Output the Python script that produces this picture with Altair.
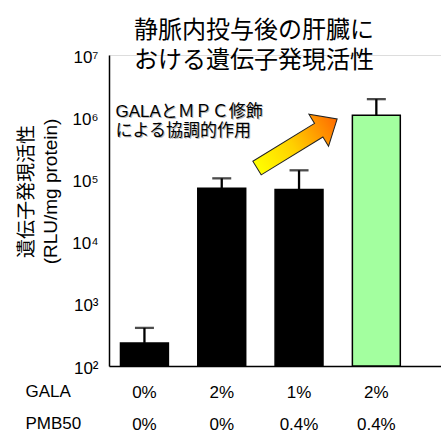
import altair as alt
import pandas as pd

# ---- data ----
gala = ["0%", "2%", "1%", "2%"]
pmb50 = ["0%", "0%", "0.4%", "0.4%"]
mean_rlu = [235, 72000, 69000, 1070000]
upper_rlu = [410, 104000, 140000, 1950000]
highlight = [False, False, False, True]

title_lines = ["静脈内投与後の肝臓に", "おける遺伝子発現活性"]
ytitle_lines = ["遺伝子発現活性", "(RLU/mg protein)"]
row_labels = ["GALA", "PMB50"]
note_lines = ["GALAとＭＰＣ修飾", "による協調的作用"]
y_ticks = [100, 1000, 10000, 100000, 1000000, 10000000]

cats = [f"{g}|{p}" for g, p in zip(gala, pmb50)]
df = pd.DataFrame({"cat": cats, "mean": mean_rlu, "upper": upper_rlu, "hl": highlight})

FONT = "Liberation Sans, Noto Sans CJK JP"

xscale = alt.Scale(domain=cats, paddingInner=0.38, paddingOuter=0.3375, align=0.22)
yscale = alt.Scale(type="log", domain=[100, 1e7], nice=False)

x_enc = alt.X(
    "cat:N", scale=xscale, sort=cats,
    axis=alt.Axis(
        title=row_labels, titleX=-84, titleY=25, titleAlign="left",
        titleBaseline="middle", titleAngle=0, titleFont=FONT, titleFontSize=17,
        titleFontWeight="normal", titleLineHeight=32, titleColor="black",
        labelExpr="split(datum.value, '|')", labelAngle=0, labelFont=FONT,
        labelFontSize=17, labelLineHeight=32, labelPadding=18, labelBaseline="top",
        labelColor="black", ticks=False, tickSize=0, domainColor="black", domainWidth=1.5,
    ),
)

y_enc = alt.Y(
    "mean:Q", scale=yscale,
    axis=alt.Axis(
        values=y_ticks, grid=False, ticks=False, tickSize=0,
        labelExpr="'10' + ['⁰','¹','²','³','⁴','⁵','⁶','⁷'][round(log(datum.value)/LN10)]",
        labelFont=FONT, labelFontSize=17, labelPadding=11, labelColor="black",
        labelBaseline="middle", labelOffset=2,
        title=ytitle_lines, titleAngle=270, titleX=-83, titleY=136, titleAlign="center",
        titleBaseline="middle", titleFont=FONT, titleFontSize=19, titleFontWeight="normal",
        titleLineHeight=24, titleColor="black", domainColor="black", domainWidth=1.5,
    ),
)

base = alt.Chart(df)

bars = base.mark_bar(stroke="black", strokeWidth=1.5).encode(
    x=x_enc, y=y_enc, y2=alt.datum(100),
    fill=alt.condition("datum.hl", alt.value("#a3ff9f"), alt.value("black")),
)

err = base.mark_rule(color="black", strokeWidth=2.3).encode(
    x="cat:N", y="mean:Q", y2="upper:Q"
)
cap = base.mark_tick(color="black", orient="horizontal", size=19, thickness=2.3).encode(
    x="cat:N", y="upper:Q"
)

note_df = pd.DataFrame({"t": [note_lines]})
note_shadow = alt.Chart(note_df).mark_text(
    align="left", baseline="middle", dx=-28, dy=-4, lineHeight=19,
    font=FONT, fontSize=17, color="#bbbbbb",
).encode(x=alt.datum(cats[0]), y=alt.datum(1e6), text="t")
note = alt.Chart(note_df).mark_text(
    align="left", baseline="middle", dx=-29, dy=-5, lineHeight=19,
    font=FONT, fontSize=17, color="black",
).encode(x=alt.datum(cats[0]), y=alt.datum(1e6), text="t")

arrow_path = "M -1 -0.17 L 0.54 -0.17 L 0.54 -0.4 L 1 0 L 0.54 0.4 L 0.54 0.17 L -1 0.17 Z"
grad = alt.LinearGradient(
    gradient="linear", x1=0, x2=1, y1=0, y2=0,
    stops=[alt.GradientStop(color="#ffff00", offset=0),
           alt.GradientStop(color="#ffd000", offset=0.45),
           alt.GradientStop(color="#ff6a00", offset=1)],
)
arrow = alt.Chart(pd.DataFrame({"a": [1]})).mark_point(
    shape=arrow_path, size=8836, angle=328.5, filled=True, fill=grad,
    stroke="#222222", strokeWidth=1, opacity=1, fillOpacity=1,
).encode(x=alt.datum(cats[2]), y=alt.datum(378000), xOffset=alt.value(22))

chart = alt.layer(bars, err, cap, arrow, note_shadow, note).properties(
    width=332, height=311,
    autosize=alt.AutoSizeParams(type="none"),
    padding={"left": 109, "top": 55, "right": 0, "bottom": 66},
    title=alt.TitleParams(
        text=title_lines, font=FONT, fontSize=24, fontWeight="normal", color="black",
        anchor="middle", dx=-21, offset=-49, baseline="bottom", lineHeight=30,
    ),
).configure_view(stroke=None).configure(background="white")

chart.save("out.html", embed_options={"renderer": "svg", "actions": False})
